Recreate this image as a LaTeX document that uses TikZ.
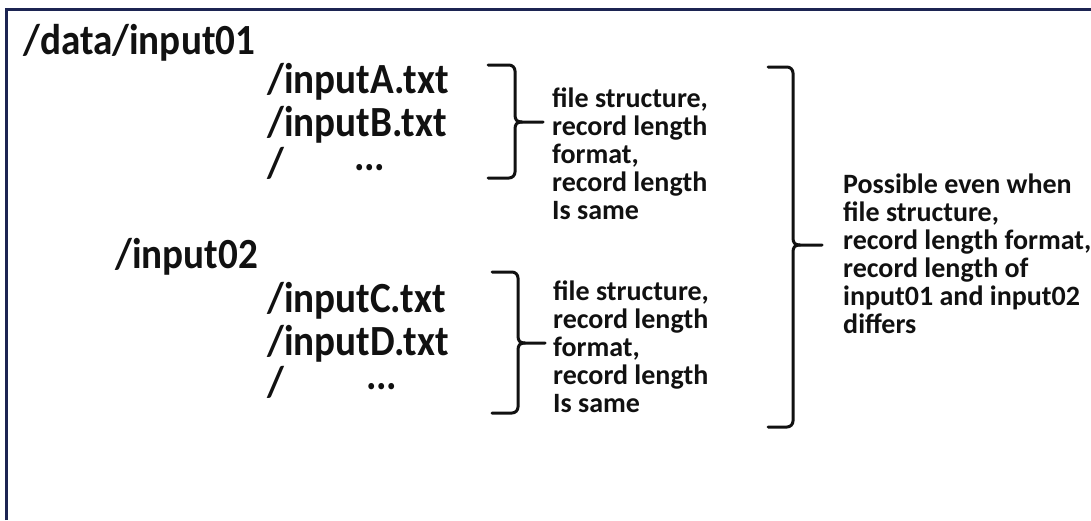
\documentclass[tikz,border=0pt]{standalone}
\usepackage{fontspec}
\setmainfont{Carlito}
\newfontfamily\narrowfont{Carlito}[FakeStretch=0.91]
\definecolor{frameblue}{HTML}{1C2452}
\definecolor{ink}{HTML}{111111}
\newcommand\mybrace[6]{%
  \draw[bracestroke] (#1,#3) -- ({#2-6},#3) to[out=0,in=90] (#2,{#3+6})
    -- (#2,{#4-7}) .. controls (#2,{#4-2}) and ({#2+2},#4) .. ({#2+7},#4) -- (#6,#4);
  \draw[bracestroke] ({#2+7},#4) .. controls ({#2+2},#4) and (#2,{#4+2}) .. (#2,{#4+7})
    -- (#2,{#5-6}) to[out=-90,in=0] ({#2-6},#5) -- (#1,#5);
}
\newcommand\linestack[1]{\vtop{\lineskiplimit=-50pt\relax #1}}
\begin{document}
\begin{tikzpicture}[x=1pt,y=-1pt,
  bigtext/.style={inner sep=0pt,anchor=base west,text=ink,font={\narrowfont\fontsize{43}{47}\selectfont\bfseries}},
  smalltext/.style={inner sep=0pt,anchor=base west,text=ink,font={\fontsize{28}{28}\selectfont\bfseries}},
  bracestroke/.style={draw=ink,line width=3pt,line cap=round,line join=round},
  frame/.style={draw=frameblue,line width=3.5pt}]
\useasboundingbox (0,0) rectangle (1091,520);
\fill[white] (0,0) rectangle (1091,520);
\draw[frame] (6.5,520) -- (6.5,9.5) -- (1091,9.5);

\node[bigtext] (data) at (23,54) {/data/input01};
\node[bigtext] (ia) at (267,93) {/inputA.txt};
\node[bigtext] (ib) at (267,136) {/inputB.txt};
\node[bigtext] (s1) at (267,177) {/\hspace{70pt}\raisebox{7pt}[0pt][0pt]{...}};

\node[bigtext] (in2) at (115,268) {/input02};
\node[bigtext] (ic) at (267,312) {/inputC.txt};
\node[bigtext] (id) at (267,355) {/inputD.txt};
\node[bigtext] (s2) at (267,396) {/\hspace{82pt}\raisebox{7pt}[0pt][0pt]{...}};

\node[smalltext] (m1) at (552,107) {\linestack{\hbox{file structure,}\hbox{record length}\hbox{format,}\hbox{record length}\hbox{Is same}}};
\node[smalltext] (m2) at (553,300) {\linestack{\hbox{file structure,}\hbox{record length}\hbox{format,}\hbox{record length}\hbox{Is same}}};
\node[smalltext] (r) at (843,193) {\linestack{\hbox{Possible even when}\hbox{file structure,}\hbox{record length format,}\hbox{record length of}\hbox{input01 and input02}\hbox{differs}}};

\mybrace{488}{515}{65}{122}{178}{543}
\mybrace{492}{518}{272}{343}{413}{545}
\mybrace{768}{793}{67}{245}{427}{822}
\end{tikzpicture}
\end{document}
